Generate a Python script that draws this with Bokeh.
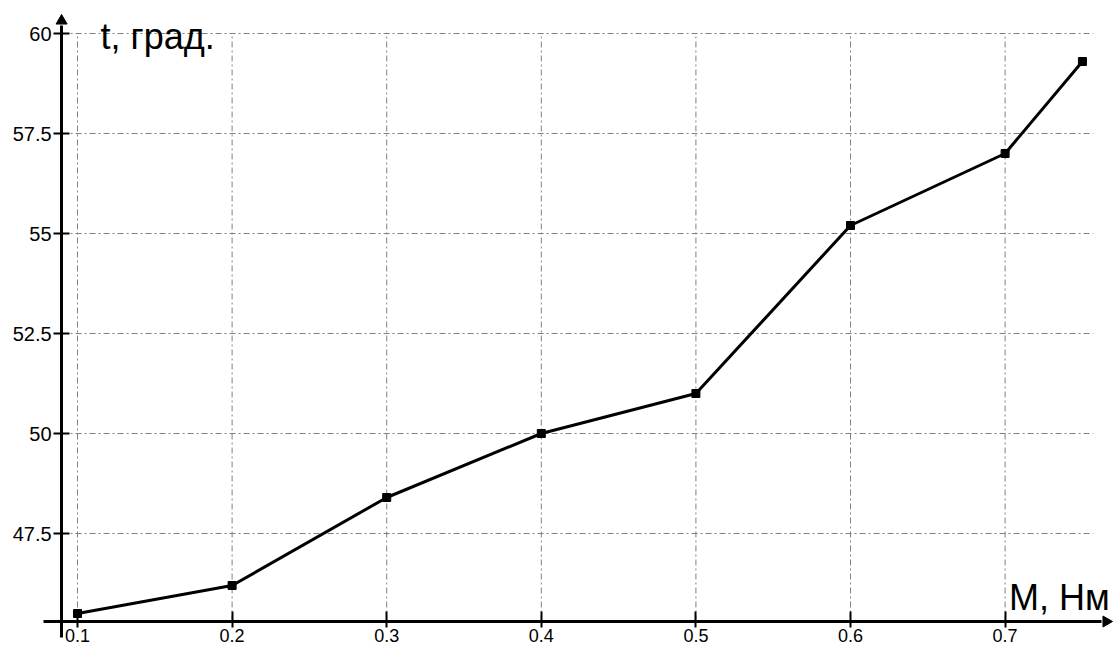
import math
from bokeh.plotting import figure
from bokeh.models import Range1d, LinearAxis, FixedTicker, CustomJSTickFormatter
from bokeh.core.properties import value
from bokeh.embed import file_html
from bokeh.resources import INLINE

# ---- data ----
m_values = [0.1, 0.2, 0.3, 0.4, 0.5, 0.6, 0.7, 0.75]
t_values = [45.5, 46.2, 48.4, 50.0, 51.0, 55.2, 57.0, 59.3]
x_ticks = [0.1, 0.2, 0.3, 0.4, 0.5, 0.6, 0.7]
y_ticks = [47.5, 50.0, 52.5, 55.0, 57.5, 60.0]
x_title = "M, Нм"
y_title = "t, град."

# axis crossing point and extents (data units)
x_cross = 0.0897
y_cross = 45.3
x_axis_start, x_axis_end = 0.078, 0.7624
y_axis_start, y_axis_end = 44.9, 60.2
x_arrow_center = 0.76536
y_arrow_center = 60.316
grid_x_end = 0.757

FONT = "Liberation Sans"

p = figure(width=1113, height=649, output_backend="svg", toolbar_location=None,
           x_range=Range1d(0.05019, 0.77011), y_range=Range1d(44.6, 60.825),
           x_axis_location=None, y_axis_location=None, min_border=0,
           title_location=None)
p.outline_line_color = None
p.grid.visible = False
p.background_fill_color = "white"
p.border_fill_color = "white"

# grid lines (dash-dot, gray)
grid_kw = dict(line_color="#808080", line_width=1, line_dash="6 3 2 3")
p.segment(x0=x_ticks, y0=[y_cross] * len(x_ticks), x1=x_ticks,
          y1=[max(y_ticks)] * len(x_ticks), **grid_kw)
p.segment(x0=[x_cross] * len(y_ticks), y0=y_ticks, x1=[grid_x_end] * len(y_ticks),
          y1=y_ticks, **grid_kw)

fmt = CustomJSTickFormatter(code="return String(tick);")

xaxis = LinearAxis(fixed_location=y_cross, ticker=FixedTicker(ticks=x_ticks), formatter=fmt,
                   bounds=(x_axis_start, x_axis_end))
yaxis = LinearAxis(fixed_location=x_cross, ticker=FixedTicker(ticks=y_ticks), formatter=fmt,
                   bounds=(y_axis_start, y_axis_end))
for ax in (xaxis, yaxis):
    ax.axis_line_width = 3
    ax.axis_line_color = "black"
    ax.major_tick_line_width = 2
    ax.major_tick_line_color = "black"
    ax.minor_tick_line_color = None
    ax.major_label_text_font = FONT
    ax.major_label_text_color = "black"
yaxis.major_tick_in = 8
yaxis.major_tick_out = 8
yaxis.major_label_text_font_size = "20px"
yaxis.major_label_standoff = 2
xaxis.major_tick_in = 10
xaxis.major_tick_out = 6
xaxis.major_label_text_font_size = "18px"
xaxis.major_label_standoff = 1
p.add_layout(xaxis, "below")
p.add_layout(yaxis, "left")

# arrow heads
p.scatter(x=[x_cross], y=[y_arrow_center], marker="triangle", size=11, angle=0,
          fill_color="black", line_color="black", line_width=1)
p.scatter(x=[x_arrow_center], y=[y_cross], marker="triangle", size=11, angle=-math.pi / 2,
          fill_color="black", line_color="black", line_width=1)

# data
p.line(m_values, t_values, line_color="black", line_width=3)
p.scatter(m_values, t_values, marker="square", size=8, fill_color="black", line_color="black")

# axis titles
p.text(x=[0.1149], y=[59.925], text=[y_title], text_font=value(FONT), text_font_size="36px",
       text_color="black", text_baseline="alphabetic", text_align="left")
p.text(x=[0.7025], y=[45.9], text=[x_title], text_font=value(FONT), text_font_size="36px",
       text_color="black", text_baseline="alphabetic", text_align="left")

open("out.html", "w").write(file_html(p, INLINE))
